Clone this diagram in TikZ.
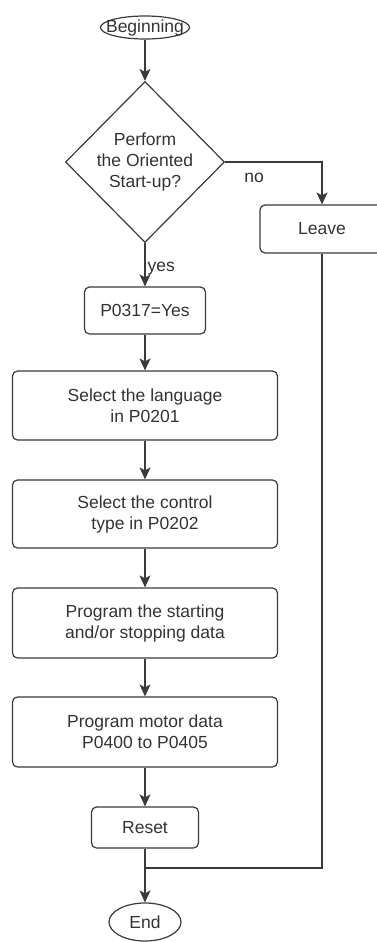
\documentclass[tikz,border=0pt]{standalone}
\usepackage{fontspec}
\setmainfont{Liberation Sans}
\usetikzlibrary{shapes.geometric, arrows.meta}
\definecolor{linegray}{HTML}{3A3A3A}
\definecolor{textgray}{HTML}{333333}

\begin{document}
\begin{tikzpicture}[x=1pt, y=-1pt, line width=1.2pt,
    every node/.style={text=textgray, font=\fontsize{17.5}{21}\selectfont, align=center},
    term/.style={draw=linegray, ellipse, inner xsep=-9pt, inner ysep=-2pt},
    stepbox/.style={draw=linegray, rectangle, rounded corners=5pt, inner sep=0pt},
    decision/.style={draw=linegray, diamond, aspect=1, inner sep=-2pt,
        minimum width=159pt, minimum height=161pt},
    flow/.style={draw=linegray, -{Stealth[length=12pt, width=11pt, inset=3pt]}}]
    \useasboundingbox (0, 0) rectangle (376, 942);

    % Start and question
    \node[term, minimum width=89pt, minimum height=23pt] (begin) at (145, 27.5) {Beginning};
    \node[decision] (dec) at (145, 162) {Perform\\the Oriented\\Start-up?};

    % Branch "no"
    \node[stepbox, minimum width=124pt, minimum height=48pt] (leave) at (322, 229) {Leave};

    % Main column
    \node[stepbox, minimum width=121pt, minimum height=47pt] (p317) at (145, 310.5) {P0317=Yes};
    \node[stepbox, minimum width=265pt, minimum height=69pt] (lang) at (145, 405.5) {Select the language\\in P0201};
    \node[stepbox, minimum width=265pt, minimum height=68pt] (ctrl) at (145, 514) {Select the control\\type in P0202};
    \node[stepbox, minimum width=265pt, minimum height=70pt] (start) at (145, 623) {Program the starting\\and/or stopping data};
    \node[stepbox, minimum width=265pt, minimum height=70pt] (motor) at (145, 732) {Program motor data\\P0400 to P0405};
    \node[stepbox, minimum width=107pt, minimum height=41pt] (reset) at (145, 827.5) {Reset};
    \node[term, minimum width=72pt, minimum height=38pt] (end) at (145, 922) {End};
    \coordinate (join) at (145, 868);

    % Connectors
    \draw[flow] (begin) -- (dec);
    \draw[flow] (dec) -- node[pos=0.6, right, inner sep=2pt] {yes} (p317);
    \draw[flow] (dec.east) -| node[pos=0.15, below=7pt] {no} (leave.north);
    \draw[flow] (p317) -- (lang);
    \draw[flow] (lang) -- (ctrl);
    \draw[flow] (ctrl) -- (start);
    \draw[flow] (start) -- (motor);
    \draw[flow] (motor) -- (reset);
    \draw[flow] (reset) -- (end);
    \draw[draw=linegray] (leave.south) |- (join);
\end{tikzpicture}
\end{document}
